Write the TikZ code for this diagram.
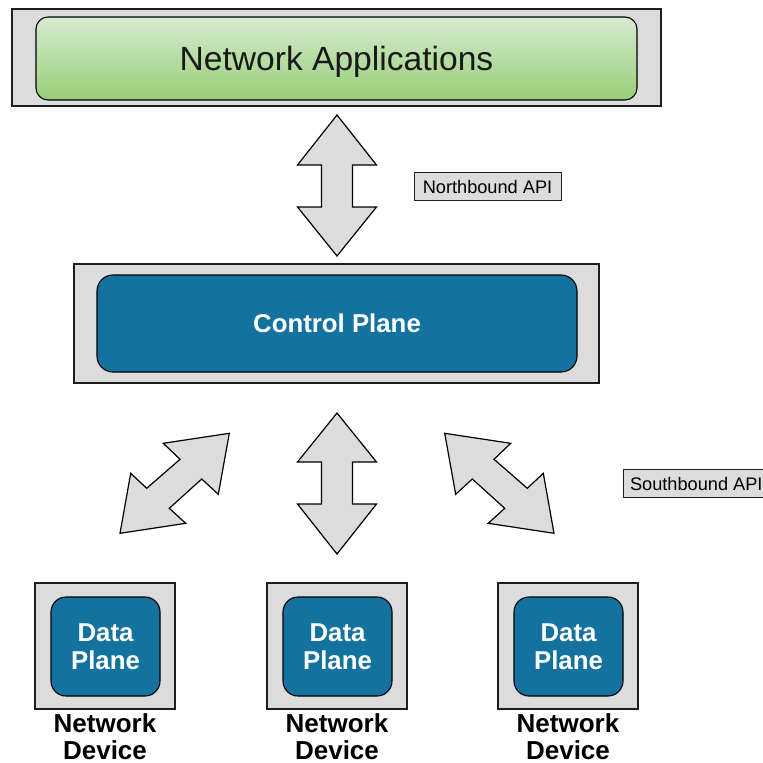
\documentclass[tikz,border=0pt]{standalone}
\usepackage{fontspec}
\setmainfont{Liberation Sans}
\definecolor{panelgray}{RGB}{220,220,220}
\definecolor{planeblue}{RGB}{20,114,158}
\definecolor{apptop}{RGB}{214,235,209}
\definecolor{appbot}{RGB}{152,206,118}
\definecolor{edgedark}{RGB}{30,30,30}
\begin{document}
\begin{tikzpicture}[x=1pt,y=-1pt,
  panel/.style={draw=edgedark,line width=1.1pt,fill=panelgray,inner sep=0pt},
  bluebox/.style={draw=black,line width=1.1pt,fill=planeblue,text=white,
    font=\bfseries\fontsize{25.8}{28}\selectfont,align=center,inner sep=0pt},
  apibox/.style={draw=edgedark,line width=1pt,fill=panelgray,inner sep=0pt,
    minimum height=28pt,font=\fontsize{18.2}{21}\selectfont},
  devlabel/.style={font=\bfseries\fontsize{26}{27}\selectfont,align=center,inner sep=0pt},
  blockarrow/.style={draw=black,line width=1.2pt,fill=panelgray,line join=miter}]
\clip (0,0) rectangle (763,763);

% application layer
\node[panel,minimum width=649pt,minimum height=97pt] (appframe) at (336.5,57.5) {};
\node[draw=black,line width=1.1pt,rounded corners=12pt,top color=apptop,bottom color=appbot,
  minimum width=601pt,minimum height=83pt,inner sep=0pt,text depth=0pt,
  font=\fontsize{33.6}{38}\selectfont,text=black!90] (apps) at (336.5,58.5) {Network Applications};

% northbound interface
\draw[blockarrow] (337,115) -- (376.5,165) -- (352.5,165) -- (352.5,207) -- (376.5,207)
  -- (337,256) -- (297.5,207) -- (321.5,207) -- (321.5,165) -- (297.5,165) -- cycle;
\node[apibox,minimum width=147pt] (nbapi) at (487.5,186.5) {Northbound API};

% control layer
\node[panel,minimum width=525pt,minimum height=119pt] (ctrlframe) at (336.5,323.5) {};
\node[bluebox,rounded corners=16pt,minimum width=480pt,minimum height=97pt] (ctrl)
  at (337,323.5) {Control Plane};

% southbound interface
\draw[blockarrow] (229.3,433.3) -- (218.3,494.3) -- (201.7,479) -- (169.3,508.3) -- (185.7,523.3)
  -- (120,533.3) -- (130.7,473.3) -- (146.7,488.3) -- (180,459.3) -- (163.3,443.3) -- cycle;
\draw[blockarrow] (337,413) -- (376.5,462) -- (352.5,462) -- (352.5,504) -- (376.5,504)
  -- (337,554) -- (297.5,504) -- (321.5,504) -- (321.5,462) -- (297.5,462) -- cycle;
\draw[blockarrow] (444.7,433.3) -- (455.7,494.3) -- (472.3,479) -- (504.7,508.3) -- (488.3,523.3)
  -- (554,533.3) -- (543.3,473.3) -- (527.3,488.3) -- (494,459.3) -- (510.7,443.3) -- cycle;
\node[apibox,anchor=west,inner xsep=7pt] (sbapi) at (622.5,483.5) {Southbound API};

% network devices
\foreach \cx/\nm in {105/devA,337/devB,568/devC}{
  \node[panel,minimum width=140pt,minimum height=126pt] (\nm frame) at (\cx,646) {};
  \node[bluebox,rounded corners=15pt,minimum width=109pt,minimum height=99pt] (\nm)
    at (\cx+0.5,646.5) {Data\\Plane};
  \node[devlabel] (\nm label) at (\cx,737) {Network\\Device};
}
\end{tikzpicture}
\end{document}
